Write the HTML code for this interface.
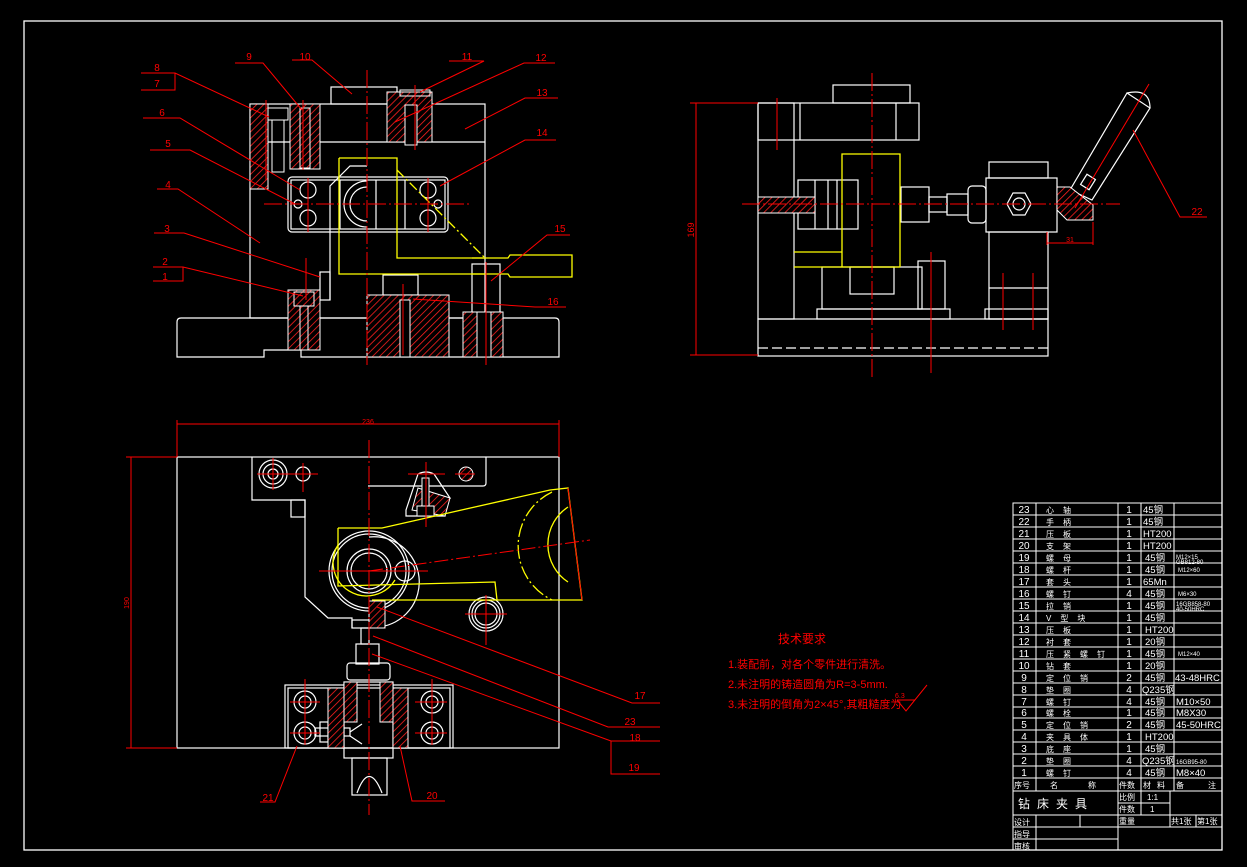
<!DOCTYPE html>
<html><head><meta charset="utf-8"><style>
html,body{margin:0;padding:0;background:#000;}
svg{display:block}
text{font-family:"Liberation Sans","Noto Sans CJK SC",sans-serif;}
</style></head><body>
<svg width="1247" height="867" viewBox="0 0 1247 867" xmlns="http://www.w3.org/2000/svg">
<defs>
<pattern id="h" width="5" height="5" patternUnits="userSpaceOnUse" patternTransform="rotate(45)">
<rect width="5" height="5" fill="#000"/><line x1="0" y1="0" x2="0" y2="5" stroke="#ff2020" stroke-width="1.6"/>
</pattern>
</defs>
<rect width="1247" height="867" fill="#000"/>
<rect x="24" y="21" width="1198" height="829" fill="none" stroke="#fff" stroke-width="1.3"/>

<!-- ================= FRONT VIEW ================= -->
<g fill="none" stroke="#fff" stroke-width="1.2">
<path d="M177 322 Q177 318 181 318 L555 318 Q559 318 559 322 L559 357 L301 357 L301 350 L264 350 L264 357 L177 357 Z"/>
<rect x="250" y="104" width="235" height="214"/>
<line x1="250" y1="142" x2="485" y2="142"/>
<rect x="331" y="87" width="66" height="17"/>
<rect x="288" y="177" width="160" height="55" rx="4"/>
<rect x="291" y="180" width="154" height="49"/>
<line x1="340" y1="180" x2="340" y2="229"/><line x1="376" y1="180" x2="376" y2="229"/>
<line x1="405" y1="180" x2="405" y2="229"/>
<circle cx="308" cy="190" r="8"/><circle cx="308" cy="218" r="8"/>
<circle cx="428" cy="190" r="8"/><circle cx="428" cy="218" r="8"/>
<circle cx="298" cy="204" r="4"/><circle cx="438" cy="204" r="4"/>
<path d="M367 181 A22 22 0 0 0 367 227"/><path d="M367 187 A17 17 0 0 0 367 221"/>
<path d="M330 300 L330 186 L350 166 L367 166"/>
<rect x="320" y="272" width="10" height="28"/>
<rect x="383" y="275" width="35" height="20"/>
<rect x="472" y="264" width="28" height="54"/>
</g>
<g stroke="#fff" stroke-width="1">
<rect x="250" y="104" width="18" height="85" fill="url(#h)"/>
<rect x="290" y="104" width="30" height="65" fill="url(#h)"/>
<rect x="268" y="108" width="20" height="12" fill="none"/>
<rect x="272" y="120" width="12" height="52" fill="none"/>
<rect x="300" y="108" width="10" height="60" fill="none"/>
<rect x="387" y="92" width="45" height="50" fill="url(#h)"/>
<rect x="405" y="105" width="12" height="40" fill="#000"/>
<rect x="400" y="90" width="30" height="6" fill="none"/>
<rect x="288" y="290" width="32" height="60" fill="url(#h)"/>
<rect x="294" y="292" width="20" height="14" fill="none"/>
<rect x="300" y="306" width="8" height="44" fill="none"/>
<rect x="367" y="295" width="82" height="62" fill="url(#h)"/>
<rect x="400" y="300" width="10" height="57" fill="#000"/>
<rect x="463" y="312" width="40" height="45" fill="url(#h)"/>
<rect x="477" y="312" width="14" height="45" fill="#000"/>
</g>
<g fill="none" stroke="#ff0" stroke-width="1.3">
<path d="M339 158 L397 158 L397 258 L485 258"/>
<path d="M339 158 L339 274 L485 274"/>
<path d="M472 258 L508 258 L510 255 L572 255 L572 277 L510 277 L508 274 L472 274"/>
<line x1="397" y1="170" x2="485" y2="258" stroke-dasharray="10 3 2 3"/>
</g>
<g stroke="#f00" stroke-width="1" fill="none">
<line x1="367" y1="70" x2="367" y2="365" stroke-dasharray="18 3 2 3"/>
<line x1="264" y1="204" x2="472" y2="204" stroke-dasharray="18 3 2 3"/>
<line x1="415" y1="85" x2="415" y2="150"/>
<line x1="403" y1="284" x2="403" y2="355"/>
<line x1="486" y1="262" x2="486" y2="365"/>
<line x1="308" y1="178" x2="308" y2="232"/>
<line x1="428" y1="178" x2="428" y2="232"/>
<line x1="266" y1="100" x2="266" y2="180"/><line x1="303" y1="100" x2="303" y2="170"/>
<line x1="306" y1="258" x2="306" y2="300"/>
<!-- leaders -->
<polyline points="141,73 175,73 269,117"/><polyline points="141,90 175,90 175,73"/>
<polyline points="143,118 180,118 300,190"/>
<polyline points="150,150 190,150 295,204"/>
<polyline points="157,189 178,189 260,243"/>
<polyline points="154,233 184,233 320,277"/>
<polyline points="153,267 183,267 303,296"/><polyline points="153,281 183,281 183,267"/>
<polyline points="235,63 263,63 302,110"/>
<polyline points="292,60 312,60 352,94"/>
<polyline points="449,61 484,61 420,92"/>
<polyline points="555,63 524,63 395,122"/>
<polyline points="558,98 525,98 465,129"/>
<polyline points="556,140 525,140 440,186"/>
<polyline points="570,235 547,235 491,281"/>
<polyline points="566,307 535,307 413,299"/>
</g>
<g fill="#f00" font-size="10" text-anchor="middle">
<text x="157" y="71">8</text><text x="157" y="87">7</text><text x="162" y="116">6</text>
<text x="168" y="147">5</text><text x="168" y="188">4</text><text x="167" y="232">3</text>
<text x="165" y="265">2</text><text x="165" y="280">1</text>
<text x="249" y="60">9</text><text x="305" y="60">10</text><text x="467" y="60">11</text>
<text x="541" y="61">12</text><text x="542" y="96">13</text><text x="542" y="136">14</text>
<text x="560" y="232">15</text><text x="553" y="305">16</text>
</g>

<!-- ================= SIDE VIEW ================= -->
<g fill="none" stroke="#fff" stroke-width="1.2">
<rect x="758" y="319" width="290" height="37"/>
<line x1="758" y1="348" x2="1048" y2="348" stroke-dasharray="10 4"/>
<rect x="758" y="103" width="36" height="216"/>
<rect x="758" y="103" width="161" height="37"/>
<line x1="800" y1="103" x2="800" y2="140"/><line x1="896" y1="103" x2="896" y2="140"/>
<rect x="833" y="85" width="77" height="18"/>
<rect x="798" y="180" width="60" height="49"/>
<line x1="815" y1="180" x2="815" y2="229"/><line x1="828" y1="180" x2="828" y2="229"/><line x1="837" y1="180" x2="837" y2="229"/>
<rect x="822" y="267" width="100" height="42"/>
<rect x="850" y="267" width="44" height="27"/>
<rect x="817" y="309" width="133" height="10"/>
<rect x="918" y="261" width="27" height="48"/>
<rect x="901" y="187" width="28" height="35"/>
<rect x="929" y="197" width="18" height="15"/>
<rect x="947" y="194" width="21" height="21"/>
<rect x="968" y="186" width="18" height="37" rx="4"/>
<rect x="986" y="178" width="71" height="54"/>
<rect x="989" y="162" width="59" height="16"/>
<rect x="989" y="232" width="59" height="87"/>
<line x1="989" y1="288" x2="1048" y2="288"/>
<rect x="985" y="309" width="63" height="10"/>
<polygon points="1007,204 1013,193 1025,193 1031,204 1025,215 1013,215"/>
<circle cx="1019" cy="204" r="6"/>
<polygon points="1127,93 1150,108 1092,200 1070,190"/>
<path d="M1127 93 Q1150 88 1150 108"/>
<rect x="1083" y="176" width="10" height="12" transform="rotate(32 1088 182)"/>
</g>
<path d="M1057 187 L1070 187 L1093 205 L1093 220 L1067 220 L1057 210 Z" fill="url(#h)" stroke="#fff" stroke-width="1"/>
<rect x="758" y="197" width="57" height="16" fill="url(#h)" stroke="#fff" stroke-width="1"/>
<g fill="none" stroke="#ff0" stroke-width="1.3">
<path d="M842 267 L842 154 L900 154 L900 267"/>
<line x1="794" y1="252" x2="842" y2="252"/><line x1="794" y1="267" x2="900" y2="267"/>
</g>
<g stroke="#f00" stroke-width="1" fill="none">
<line x1="872" y1="73" x2="872" y2="377" stroke-dasharray="18 3 2 3"/>
<line x1="742" y1="204" x2="1120" y2="204" stroke-dasharray="18 3 2 3"/>
<line x1="777" y1="98" x2="777" y2="150"/>
<line x1="931" y1="252" x2="931" y2="373"/>
<line x1="1003" y1="273" x2="1003" y2="330"/><line x1="1033" y1="273" x2="1033" y2="330"/>
<line x1="1149" y1="84" x2="1075" y2="208"/>
<line x1="696" y1="103" x2="696" y2="355"/>
<line x1="690" y1="103" x2="758" y2="103"/><line x1="690" y1="355" x2="758" y2="355"/>
<line x1="1047" y1="243" x2="1093" y2="243"/><line x1="1093" y1="222" x2="1093" y2="245"/><line x1="1047" y1="232" x2="1047" y2="245"/>
<polyline points="1133,130 1180,217 1207,217"/>
</g>
<g fill="#f00" font-size="9" text-anchor="middle">
<text x="694" y="230" transform="rotate(-90 694 230)">169</text>
<text x="1070" y="242" font-size="7">31</text>
<text x="1197" y="215" font-size="10">22</text>
</g>

<!-- ================= TOP VIEW ================= -->
<g fill="none" stroke="#fff" stroke-width="1.2">
<rect x="177" y="457" width="382" height="291"/>
<path d="M252 457 L252 500 L305 500 L305 597 L328 618 L352 618 L352 628"/>
<path d="M486 457 L486 483 Q486 486 483 486 L368 486"/>
<rect x="291" y="500" width="14" height="17"/>
<circle cx="273" cy="474" r="14"/><circle cx="273" cy="474" r="10"/><circle cx="273" cy="474" r="5"/>
<circle cx="303" cy="474" r="7"/>
<circle cx="369" cy="571" r="40"/><circle cx="369" cy="571" r="37"/>
<circle cx="369" cy="571" r="22"/><circle cx="369" cy="571" r="18"/>
<path d="M369 537 A45 45 0 0 1 379 627"/>
<circle cx="405" cy="571" r="10"/>
<circle cx="486" cy="614" r="17"/><circle cx="486" cy="614" r="14"/><circle cx="486" cy="614" r="11"/>
<path d="M406 510 L418 474 Q426 470 434 474 L450 498 L445 498 L445 516 L406 516 Z"/>
<rect x="352" y="620" width="18" height="8"/>
<rect x="361" y="628" width="8" height="16"/>
<rect x="356" y="644" width="23" height="20"/>
<rect x="347" y="663" width="43" height="17" rx="3"/>
<rect x="344" y="682" width="49" height="76"/>
<rect x="352" y="758" width="35" height="37"/>
<path d="M357 793 Q369 760 382 793"/>
<rect x="285" y="685" width="168" height="63"/>
<rect x="288" y="688" width="162" height="60"/>
<circle cx="305" cy="702" r="11"/><circle cx="305" cy="702" r="6"/>
<circle cx="305" cy="733" r="11"/><circle cx="305" cy="733" r="6"/>
<circle cx="432" cy="702" r="11"/><circle cx="432" cy="702" r="6"/>
<circle cx="432" cy="733" r="11"/><circle cx="432" cy="733" r="6"/>
<rect x="315" y="728" width="35" height="8"/>
<rect x="320" y="722" width="8" height="20"/>
<path d="M350 732 L362 724 M350 736 L362 744"/>
</g>
<g stroke="#fff" stroke-width="1">
<rect x="328" y="688" width="16" height="60" fill="url(#h)"/>
<rect x="393" y="688" width="15" height="60" fill="url(#h)"/>
<rect x="344" y="682" width="13" height="40" fill="url(#h)"/>
<rect x="380" y="682" width="13" height="40" fill="url(#h)"/>
<path d="M412 510 L418 488 L450 498 L445 516 Z" fill="url(#h)"/>
<rect x="422" y="478" width="7" height="32" fill="#000"/>
<rect x="417" y="506" width="17" height="10" fill="#000"/>
<circle cx="466" cy="474" r="7" fill="url(#h)"/>
<rect x="369" y="601" width="16" height="27" fill="url(#h)"/>
</g>
<g fill="none" stroke="#ff0" stroke-width="1.3">
<path d="M338 528 L382 528 L550 490 L568 488 L582 600 L372 600"/>
<path d="M338 528 L338 586 L495 582 L497 600"/>
<path d="M552 492 A60 60 0 0 0 552 600" stroke-dasharray="14 3 2 3"/>
<path d="M568 507 A45 45 0 0 0 568 582"/>
<path d="M338 545 A30 30 0 0 0 395 580"/>
</g>
<g stroke="#f00" stroke-width="1" fill="none">
<line x1="369" y1="440" x2="369" y2="815" stroke-dasharray="18 3 2 3"/>
<line x1="319" y1="571" x2="428" y2="571"/>
<line x1="369" y1="571" x2="590" y2="540" stroke-dasharray="14 3 2 3"/>
<line x1="568" y1="488" x2="582" y2="600"/>
<line x1="257" y1="474" x2="318" y2="474"/><line x1="273" y1="458" x2="273" y2="490"/>
<line x1="293" y1="474" x2="316" y2="474"/><line x1="303" y1="463" x2="303" y2="492"/>
<line x1="408" y1="474" x2="445" y2="474"/><line x1="426" y1="462" x2="426" y2="527"/>
<line x1="455" y1="474" x2="475" y2="474"/>
<line x1="465" y1="614" x2="507" y2="614"/><line x1="486" y1="595" x2="486" y2="645"/>
<line x1="305" y1="679" x2="305" y2="745"/><line x1="432" y1="679" x2="432" y2="745"/>
<line x1="290" y1="702" x2="320" y2="702"/><line x1="415" y1="702" x2="447" y2="702"/>
<line x1="290" y1="733" x2="320" y2="733"/><line x1="415" y1="733" x2="447" y2="733"/>
<line x1="177" y1="424" x2="559" y2="424"/>
<line x1="177" y1="420" x2="177" y2="457"/><line x1="559" y1="420" x2="559" y2="457"/>
<line x1="131" y1="457" x2="131" y2="748"/>
<line x1="126" y1="457" x2="177" y2="457"/><line x1="126" y1="748" x2="177" y2="748"/>
<polyline points="377,607 632,703 660,703"/>
<polyline points="373,636 608,727 660,727"/>
<polyline points="372,654 611,741 660,741"/>
<polyline points="611,741 611,774 660,774"/>
<polyline points="297,746 275,802 260,802"/>
<polyline points="400,746 412,801 445,801"/>
</g>
<g fill="#f00" font-size="10" text-anchor="middle">
<text x="368" y="424" font-size="7">236</text>
<text x="129" y="603" font-size="7" transform="rotate(-90 129 603)">190</text>
<text x="640" y="699">17</text><text x="630" y="725">23</text><text x="635" y="741">18</text>
<text x="634" y="771">19</text><text x="268" y="801">21</text><text x="432" y="799">20</text>
</g>

<!-- ================= TECH REQUIREMENTS ================= -->
<g fill="#f00" font-family="'Liberation Sans','Noto Sans CJK SC',sans-serif">
<text x="778" y="643" font-size="12">技术要求</text>
<text x="728" y="668" font-size="11">1.装配前，对各个零件进行清洗。</text>
<text x="728" y="688" font-size="11">2.未注明的铸造圆角为R=3-5mm.</text>
<text x="728" y="708" font-size="11">3.未注明的倒角为2×45°,其粗糙度为</text>
<text x="895" y="698" font-size="7">6.3</text>
</g>
<polyline points="897,700 906,711 927,685" fill="none" stroke="#f00" stroke-width="1"/>
<line x1="897" y1="700" x2="915" y2="700" stroke="#f00" stroke-width="1"/>

<!-- ================= PARTS LIST ================= -->
<g stroke="#fff" stroke-width="1" fill="none">
<rect x="1013" y="503" width="209" height="347"/>
<line x1="1036" y1="503" x2="1036" y2="791"/>
<line x1="1118" y1="503" x2="1118" y2="850"/>
<line x1="1141" y1="503" x2="1141" y2="815"/>
<line x1="1174" y1="503" x2="1174" y2="791"/>
<line x1="1013" y1="778" x2="1222" y2="778"/>
<line x1="1013" y1="791" x2="1222" y2="791"/>
<line x1="1170" y1="791" x2="1170" y2="815"/>
<line x1="1118" y1="803" x2="1170" y2="803"/>
<line x1="1013" y1="815" x2="1222" y2="815"/>
<line x1="1036" y1="815" x2="1036" y2="850"/>
<line x1="1080" y1="815" x2="1080" y2="827"/>
<line x1="1118" y1="827" x2="1222" y2="827"/>
<line x1="1013" y1="827" x2="1118" y2="827"/>
<line x1="1013" y1="839" x2="1118" y2="839"/>
<line x1="1170" y1="815" x2="1170" y2="827"/>
<line x1="1196" y1="815" x2="1196" y2="827"/>
<path d="M1013 515H1222M1013 527H1222M1013 539H1222M1013 551H1222M1013 563H1222M1013 575H1222M1013 587H1222M1013 599H1222M1013 611H1222M1013 623H1222M1013 635H1222M1013 647H1222M1013 659H1222M1013 671H1222M1013 683H1222M1013 695H1222M1013 707H1222M1013 718H1222M1013 730H1222M1013 742H1222M1013 754H1222M1013 766H1222"/>
</g>
<g fill="#fff" font-size="10" font-family="'Liberation Sans','Noto Sans CJK SC',sans-serif">
<g text-anchor="middle">
<text x="1024" y="513">23</text><text x="1024" y="525">22</text><text x="1024" y="537">21</text><text x="1024" y="549">20</text>
<text x="1024" y="561">19</text><text x="1024" y="573">18</text><text x="1024" y="585">17</text><text x="1024" y="597">16</text>
<text x="1024" y="609">15</text><text x="1024" y="621">14</text><text x="1024" y="633">13</text><text x="1024" y="645">12</text>
<text x="1024" y="657">11</text><text x="1024" y="669">10</text><text x="1024" y="681">9</text><text x="1024" y="693">8</text>
<text x="1024" y="705">7</text><text x="1024" y="716">6</text><text x="1024" y="728">5</text><text x="1024" y="740">4</text>
<text x="1024" y="752">3</text><text x="1024" y="764">2</text><text x="1024" y="776">1</text>
<g>
<text x="1129" y="513">1</text><text x="1129" y="525">1</text><text x="1129" y="537">1</text><text x="1129" y="549">1</text>
<text x="1129" y="561">1</text><text x="1129" y="573">1</text><text x="1129" y="585">1</text><text x="1129" y="597">4</text>
<text x="1129" y="609">1</text><text x="1129" y="621">1</text><text x="1129" y="633">1</text><text x="1129" y="645">1</text>
<text x="1129" y="657">1</text><text x="1129" y="669">1</text><text x="1129" y="681">2</text><text x="1129" y="693">4</text>
<text x="1129" y="705">4</text><text x="1129" y="716">1</text><text x="1129" y="728">2</text><text x="1129" y="740">1</text>
<text x="1129" y="752">1</text><text x="1129" y="764">4</text><text x="1129" y="776">4</text>
</g>
</g>
<g font-size="8" letter-spacing="9">
<text x="1046" y="513">心轴</text><text x="1046" y="525">手柄</text><text x="1046" y="537">压板</text><text x="1046" y="549">支架</text>
<text x="1046" y="561">螺母</text><text x="1046" y="573">螺杆</text><text x="1046" y="585">套头</text><text x="1046" y="597">螺钉</text>
<text x="1046" y="609">拉销</text><text x="1046" y="621">V型块</text><text x="1046" y="633">压板</text><text x="1046" y="645">衬套</text>
<text x="1046" y="657">压紧螺钉</text><text x="1046" y="669">钻套</text><text x="1046" y="681">定位销</text><text x="1046" y="693">垫圈</text>
<text x="1046" y="705">螺钉</text><text x="1046" y="716">螺栓</text><text x="1046" y="728">定位销</text><text x="1046" y="740">夹具体</text>
<text x="1046" y="752">底座</text><text x="1046" y="764">垫圈</text><text x="1046" y="776">螺钉</text>
</g>
<g font-size="9.5">
<text x="1143" y="513">45钢</text><text x="1143" y="525">45钢</text><text x="1143" y="537">HT200</text><text x="1143" y="549">HT200</text>
<text x="1145" y="561">45钢</text><text x="1145" y="573">45钢</text><text x="1143" y="585">65Mn</text><text x="1145" y="597">45钢</text>
<text x="1145" y="609">45钢</text><text x="1145" y="621">45钢</text><text x="1145" y="633">HT200</text><text x="1145" y="645">20钢</text>
<text x="1145" y="657">45钢</text><text x="1145" y="669">20钢</text><text x="1145" y="681">45钢</text><text x="1142" y="693">Q235钢</text>
<text x="1145" y="705">45钢</text><text x="1145" y="716">45钢</text><text x="1145" y="728">45钢</text><text x="1145" y="740">HT200</text>
<text x="1145" y="752">45钢</text><text x="1142" y="764">Q235钢</text><text x="1145" y="776">45钢</text>
</g>
<g font-size="9.5">
<text x="1175" y="681">43-48HRC</text><text x="1176" y="705">M10×50</text><text x="1176" y="716">M8X30</text>
<text x="1176" y="728">45-50HRC</text><text x="1176" y="776">M8×40</text>
</g>
<g font-size="6">
<text x="1176" y="559">M12×15</text><text x="1176" y="564">GB812-80</text>
<text x="1178" y="572">M12×60</text><text x="1178" y="596">M6×30</text>
<text x="1176" y="606">16GB858-80</text><text x="1176" y="611">40-50HRC</text>
<text x="1178" y="656">M12×40</text><text x="1176" y="764">16GB95-80</text>
</g>
<g font-size="8">
<text x="1014" y="788">序号</text><text x="1050" y="788" letter-spacing="30">名称</text>
<text x="1119" y="788">件数</text><text x="1143" y="788" letter-spacing="6">材料</text>
<text x="1176" y="788" letter-spacing="24">备注</text>
<text x="1119" y="800">比例</text><text x="1147" y="800">1:1</text>
<text x="1119" y="812">件数</text><text x="1150" y="812">1</text>
<text x="1119" y="824">重量</text>
<text x="1171" y="824">共1张</text><text x="1197" y="824">第1张</text>
<text x="1014" y="825">设计</text><text x="1014" y="837">指导</text><text x="1014" y="849">审核</text>
</g>
<text x="1018" y="808" font-size="12" letter-spacing="7">钻床夹具</text>
</g>
</svg>
</body></html>
